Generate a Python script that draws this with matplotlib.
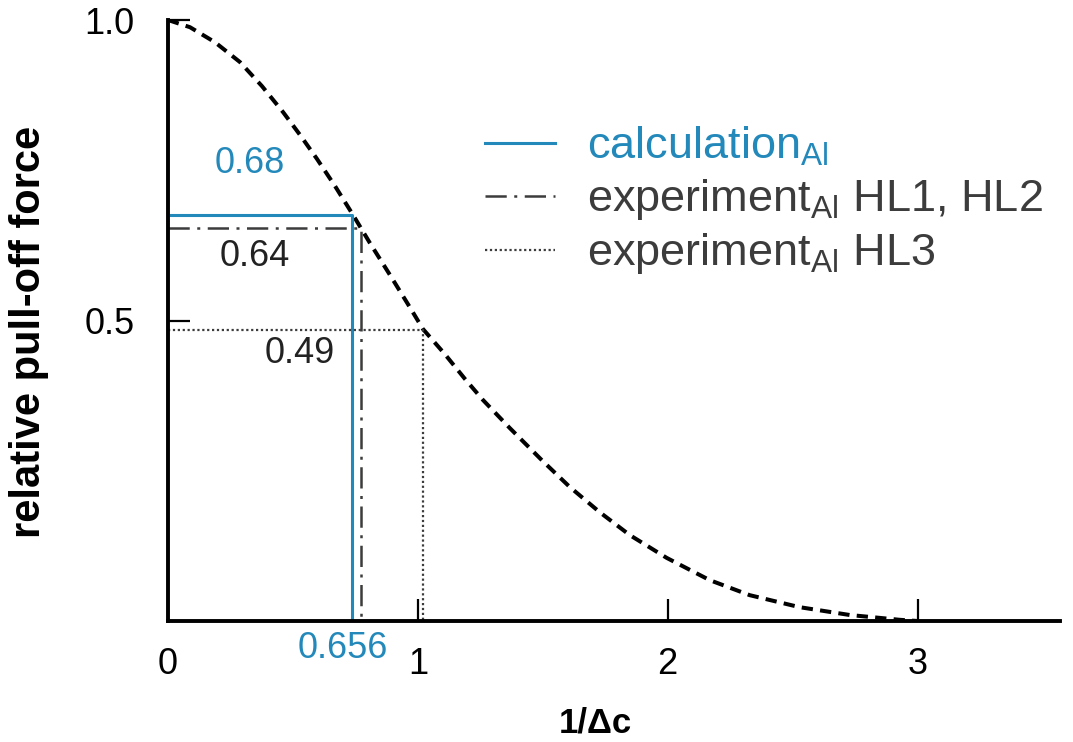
import numpy as np
import matplotlib
matplotlib.use('Agg')
from matplotlib import pyplot as plt

# dashed curve
curve_x = [0.0, 0.088, 0.188, 0.288, 0.376, 0.46, 0.528, 0.596, 0.668, 0.74, 0.808,
           0.888, 0.968, 1.02, 1.108, 1.188, 1.26, 1.368, 1.5, 1.608, 1.728, 1.848,
           1.996, 2.168, 2.328, 2.528, 2.728, 2.928, 3.0]
curve_y = [1.0, 0.988, 0.963, 0.930, 0.890, 0.847, 0.809, 0.769, 0.724, 0.676, 0.629,
           0.576, 0.522, 0.486, 0.444, 0.403, 0.368, 0.321, 0.266, 0.223, 0.181, 0.143,
           0.105, 0.068, 0.043, 0.023, 0.010, 0.002, 0.0]

# marker lines (x at curve, y level)
calc_x, calc_y = 0.736, 0.676
hl12_x, hl12_y = 0.772, 0.654
hl3_x, hl3_y = 1.02, 0.484

labels = ['calculation$_{\\mathrm{Al}}$',
          'experiment$_{\\mathrm{Al}}$ HL1, HL2',
          'experiment$_{\\mathrm{Al}}$ HL3']
notes = ['0.68', '0.64', '0.49', '0.656']
note_x = [0.328, 0.348, 0.528, 0.70]
note_y = [0.761, 0.606, 0.445, -0.045]

xticks = [0, 1, 2, 3]
yticks = [0.5, 1.0]

blue = '#2388ba'
grey = '#3c3c3c'

plt.rcParams['font.family'] = ['Liberation Sans', 'DejaVu Sans']
plt.rcParams['mathtext.fontset'] = 'custom'
plt.rcParams['mathtext.rm'] = 'Liberation Sans'
plt.rcParams['mathtext.it'] = 'Liberation Sans:italic'
plt.rcParams['mathtext.bf'] = 'Liberation Sans:bold'

fig = plt.figure(figsize=(10.73, 7.42), dpi=100)
ax = fig.add_axes([168/1073, 121/742, 892/1073, 601/742])

ax.plot(curve_x, curve_y, color='black', lw=2.9, ls=(0, (2.8, 1.8)))
l1, = ax.plot([0, calc_x, calc_x], [calc_y, calc_y, 0], color=blue, lw=2.2)
l2, = ax.plot([0, hl12_x, hl12_x], [hl12_y, hl12_y, 0], color=grey, lw=1.8,
              ls=(0, (8.5, 3, 1.2, 3)))
l3, = ax.plot([0, hl3_x, hl3_x], [hl3_y, hl3_y, 0], color=grey, lw=1.6,
              ls=(0, (1, 1.2)))

note_c = [blue, '#222222', '#222222', blue]
for t, x, y, c in zip(notes, note_x, note_y, note_c):
    ax.text(x, y, t, color=c, fontsize=26, ha='center', va='center', clip_on=False)

leg = ax.legend([l1, l2, l3], labels, loc='upper left', bbox_to_anchor=(0.355, 0.825),
                frameon=False, fontsize=32.5, handlelength=1.56, handletextpad=0.7,
                labelspacing=0.2, borderpad=0, borderaxespad=0)
for txt, c in zip(leg.get_texts(), [blue, grey, grey]):
    txt.set_color(c)

ax.set_xlim(0, 3.57)
ax.set_ylim(0, 1.0)
for s in ['top', 'right']:
    ax.spines[s].set_visible(False)
for s in ['left', 'bottom']:
    ax.spines[s].set_linewidth(2.8)
ax.set_xticks(xticks)
ax.set_xticklabels([str(v) for v in xticks])
ax.set_yticks(yticks)
ax.set_yticklabels(['%.1f' % v for v in yticks])
ax.tick_params(axis='both', direction='in', length=16, width=1.6, labelsize=26)
ax.tick_params(axis='x', pad=19)
ax.tick_params(axis='y', pad=24)

ax.set_xlabel('1/Δc', fontsize=25, fontweight='bold')
ax.xaxis.set_label_coords(0.479, -0.143)
ax.set_ylabel('relative pull-off force', fontsize=30, fontweight='bold')
ax.yaxis.set_label_coords(-0.133, 0.481)

fig.savefig('out.png', dpi=100)
